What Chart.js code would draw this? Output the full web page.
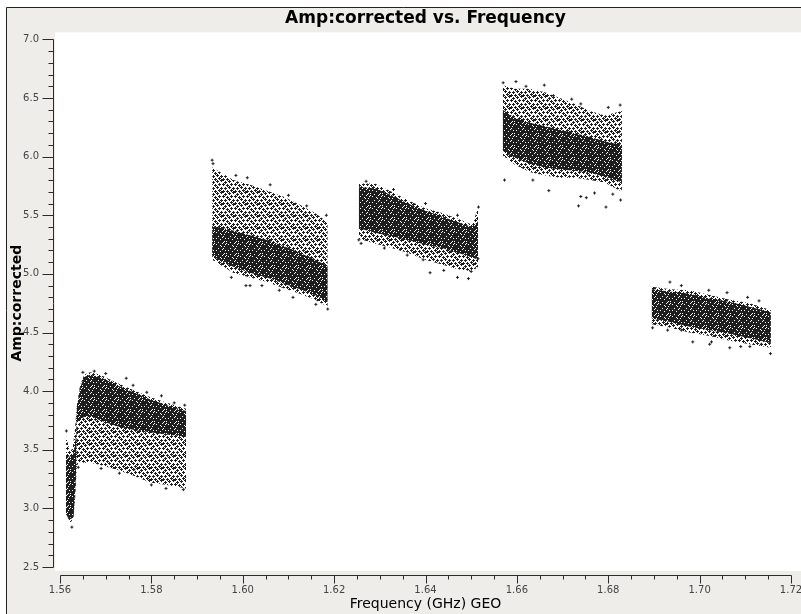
<!DOCTYPE html>
<html>
<head>
<meta charset="utf-8">
<script src="https://cdn.jsdelivr.net/npm/chart.js@4/dist/chart.umd.min.js"></script>
<style>
  html, body { margin: 0; padding: 0; background: #fff; }
  canvas { display: block; }
</style>
</head>
<body>
<canvas id="plot" width="801" height="614"></canvas>
<script>
/* global Chart */

// ---------------------------------------------------------------------------
// Axes
// ---------------------------------------------------------------------------

const X_TICKS      = [1.56, 1.58, 1.60, 1.62, 1.64, 1.66, 1.68, 1.70, 1.72];
const X_MINOR_STEP = 0.005;
const Y_TICKS      = [2.5, 3.0, 3.5, 4.0, 4.5, 5.0, 5.5, 6.0, 6.5, 7.0];
const Y_MINOR_STEP = 0.1;

// ---------------------------------------------------------------------------
// Data, one block per spectral window
//   *Freq / *Top / *Bottom : envelope of the whole cloud
//   *CoreFreq / ...        : the densest part of the cloud
//   *Points                : loose points around the edges
// ---------------------------------------------------------------------------

const spw0Freq       = [1.5613, 1.5622, 1.5628, 1.5633, 1.5637, 1.5644, 1.5653, 1.5666, 1.5688, 1.5725, 1.5760, 1.5797, 1.5834, 1.5876];
const spw0Top        = [3.62, 3.48, 3.52, 3.69, 3.88, 4.05, 4.14, 4.16, 4.14, 4.07, 4.01, 3.95, 3.90, 3.85];
const spw0Bottom     = [2.97, 2.88, 2.90, 3.07, 3.37, 3.39, 3.39, 3.39, 3.37, 3.33, 3.28, 3.22, 3.20, 3.17];
const spw0CoreFreq   = [1.5613, 1.5622, 1.5630, 1.5635, 1.5637, 1.5644, 1.5653, 1.5666, 1.5688, 1.5725, 1.5760, 1.5797, 1.5834, 1.5876];
const spw0CoreTop    = [3.45, 3.44, 3.47, 3.62, 3.86, 4.03, 4.12, 4.14, 4.12, 4.05, 3.99, 3.93, 3.88, 3.83];
const spw0CoreBottom = [2.95, 2.90, 2.93, 3.30, 3.74, 3.76, 3.78, 3.79, 3.75, 3.70, 3.67, 3.65, 3.63, 3.61];
const spw0Points = [
    [1.5614, 3.66], [1.5626, 2.84], [1.5620, 2.92], [1.5650, 4.16], [1.5675, 4.17],
    [1.5700, 4.15], [1.5745, 4.11], [1.5760, 4.05], [1.5790, 3.99], [1.5822, 3.96],
    [1.5850, 3.90], [1.5873, 3.88], [1.5690, 3.34], [1.5730, 3.30], [1.5762, 3.33],
    [1.5800, 3.20], [1.5832, 3.17], [1.5870, 3.16], [1.5640, 3.35],
];

const spw1Freq       = [1.5933, 1.5979, 1.6016, 1.6053, 1.6088, 1.6125, 1.6158, 1.6186];
const spw1Top        = [5.91, 5.80, 5.76, 5.71, 5.66, 5.59, 5.52, 5.44];
const spw1Bottom     = [5.12, 5.01, 4.97, 4.93, 4.88, 4.83, 4.78, 4.72];
const spw1CoreFreq   = spw1Freq;
const spw1CoreTop    = [5.41, 5.37, 5.33, 5.29, 5.24, 5.18, 5.12, 5.07];
const spw1CoreBottom = [5.15, 5.06, 5.01, 4.97, 4.92, 4.87, 4.82, 4.76];
const spw1Points = [
    [1.5933, 5.97], [1.5935, 5.94], [1.5985, 5.84], [1.6010, 5.82], [1.6060, 5.76],
    [1.6100, 5.67], [1.6140, 5.58], [1.6183, 5.50], [1.5975, 4.97], [1.6007, 4.90],
    [1.6016, 4.90], [1.6042, 4.90], [1.6080, 4.86], [1.6110, 4.80], [1.6160, 4.74],
    [1.6186, 4.70],
];

const spw2Freq       = [1.6254, 1.6289, 1.6326, 1.6361, 1.6399, 1.6436, 1.6471, 1.6502, 1.6515];
const spw2Top        = [5.77, 5.77, 5.70, 5.63, 5.56, 5.52, 5.47, 5.42, 5.56];
const spw2Bottom     = [5.30, 5.26, 5.22, 5.18, 5.12, 5.08, 5.04, 5.02, 5.06];
const spw2CoreFreq   = spw2Freq;
const spw2CoreTop    = [5.74, 5.73, 5.67, 5.60, 5.54, 5.49, 5.44, 5.40, 5.45];
const spw2CoreBottom = [5.39, 5.35, 5.32, 5.29, 5.25, 5.22, 5.18, 5.14, 5.12];
const spw2Points = [
    [1.6254, 5.29], [1.6259, 5.26], [1.6310, 5.22], [1.6345, 5.21], [1.6360, 5.16],
    [1.6395, 5.12], [1.6410, 5.01], [1.6440, 5.03], [1.6470, 4.97], [1.6494, 4.96],
    [1.6500, 5.02], [1.6270, 5.79], [1.6330, 5.72], [1.6400, 5.60], [1.6470, 5.50],
    [1.6516, 5.57], [1.6515, 5.13],
];

const spw3Freq       = [1.6569, 1.6596, 1.6628, 1.6661, 1.6694, 1.6727, 1.6760, 1.6792, 1.6830];
const spw3Top        = [6.61, 6.58, 6.58, 6.55, 6.50, 6.45, 6.39, 6.35, 6.39];
const spw3Bottom     = [6.01, 5.93, 5.87, 5.84, 5.82, 5.82, 5.80, 5.78, 5.70];
const spw3CoreFreq   = spw3Freq;
const spw3CoreTop    = [6.40, 6.33, 6.29, 6.26, 6.23, 6.20, 6.17, 6.13, 6.10];
const spw3CoreBottom = [6.05, 5.99, 5.94, 5.91, 5.89, 5.88, 5.86, 5.83, 5.78];
const spw3Points = [
    [1.6570, 6.63], [1.6598, 6.64], [1.6620, 6.60], [1.6660, 6.61], [1.6680, 6.52],
    [1.6720, 6.49], [1.6740, 6.45], [1.6800, 6.42], [1.6826, 6.44], [1.6573, 5.80],
    [1.6635, 5.80], [1.6670, 5.71], [1.6740, 5.66], [1.6752, 5.65], [1.6735, 5.58],
    [1.6770, 5.69], [1.6795, 5.57], [1.6827, 5.63], [1.6810, 5.68],
];

const spw4Freq       = [1.6895, 1.6935, 1.6978, 1.7022, 1.7066, 1.7110, 1.7156];
const spw4Top        = [4.89, 4.87, 4.86, 4.82, 4.78, 4.75, 4.69];
const spw4Bottom     = [4.57, 4.54, 4.50, 4.47, 4.43, 4.40, 4.37];
const spw4CoreFreq   = spw4Freq;
const spw4CoreTop    = [4.87, 4.85, 4.83, 4.79, 4.76, 4.72, 4.67];
const spw4CoreBottom = [4.62, 4.59, 4.55, 4.52, 4.49, 4.45, 4.41];
const spw4Points = [
    [1.6935, 4.93], [1.6960, 4.90], [1.7020, 4.86], [1.7060, 4.84], [1.7105, 4.80],
    [1.7130, 4.77], [1.6897, 4.54], [1.6930, 4.52], [1.6960, 4.52], [1.6985, 4.42],
    [1.7026, 4.42], [1.7022, 4.40], [1.7066, 4.37], [1.7090, 4.38], [1.7110, 4.38],
    [1.7135, 4.40], [1.7155, 4.32],
];

// ---------------------------------------------------------------------------
// Speckle patterns (plotms draws every visibility as a tiny "+")
// ---------------------------------------------------------------------------

const INK = '#1e1e1e';

function makeSpeckle(size, centers) {
    const c = document.createElement('canvas');
    c.width = size; c.height = size;
    const g = c.getContext('2d');
    g.fillStyle = INK;
    for (const [cx, cy] of centers) {
        for (const dx of [-size, 0, size]) {
            for (const dy of [-size, 0, size]) {
                g.fillRect(cx + dx - 1, cy + dy, 3, 1);
                g.fillRect(cx + dx, cy + dy - 1, 1, 3);
            }
        }
    }
    return g.createPattern(c, 'repeat');
}

const densePat = makeSpeckle(12, [
    [0, 0], [3, 0], [6, 1], [9, 0],
    [1, 3], [4, 2], [8, 3], [11, 2],
    [2, 5], [5, 4], [7, 5], [10, 5],
    [0, 7], [3, 6], [6, 7], [9, 7],
    [1, 9], [4, 8], [8, 9], [11, 9],
    [2, 11], [5, 10], [7, 11], [10, 11],
]);
const loosePat = makeSpeckle(12, [
    [1, 1], [5, 0], [9, 2], [3, 4], [7, 4], [11, 5],
    [1, 7], [5, 8], [9, 8], [3, 10], [7, 11], [11, 11],
]);

// ---------------------------------------------------------------------------
// Datasets
// ---------------------------------------------------------------------------

const SPWS = [
    [spw0Freq, spw0Top, spw0Bottom, spw0CoreFreq, spw0CoreTop, spw0CoreBottom, spw0Points],
    [spw1Freq, spw1Top, spw1Bottom, spw1CoreFreq, spw1CoreTop, spw1CoreBottom, spw1Points],
    [spw2Freq, spw2Top, spw2Bottom, spw2CoreFreq, spw2CoreTop, spw2CoreBottom, spw2Points],
    [spw3Freq, spw3Top, spw3Bottom, spw3CoreFreq, spw3CoreTop, spw3CoreBottom, spw3Points],
    [spw4Freq, spw4Top, spw4Bottom, spw4CoreFreq, spw4CoreTop, spw4CoreBottom, spw4Points],
];

function edge(freq, amp) {
    return freq.map((f, i) => ({ x: f, y: amp[i] }));
}

function band(freq, top, bottom, pattern) {
    return [
        { data: edge(freq, top), borderWidth: 0, pointRadius: 0, fill: false },
        { data: edge(freq, bottom), borderWidth: 0, pointRadius: 0, fill: '-1', backgroundColor: pattern },
    ];
}

const datasets = [];
for (const [freq, top, bottom, cFreq, cTop, cBottom, pts] of SPWS) {
    datasets.push(...band(freq, top, bottom, loosePat));
    datasets.push(...band(cFreq, cTop, cBottom, densePat));
    datasets.push({
        data:        pts.map(([f, a]) => ({ x: f, y: a })),
        showLine:    false,
        pointStyle:  'cross',
        pointRadius: 1.5,
        borderWidth: 1,
        borderColor: INK,
        backgroundColor: INK,
    });
}

// ---------------------------------------------------------------------------
// Frame, axis lines and minor ticks
// ---------------------------------------------------------------------------

const AXIS_COLOR = '#2b2b2b';

const framePlugin = {
    id: 'frame',
    beforeDraw(chart) {
        const { ctx, chartArea: a, width, height } = chart;
        ctx.save();
        ctx.fillStyle = '#ffffff';
        ctx.fillRect(0, 0, width, height);
        ctx.fillStyle = '#efede9';
        ctx.fillRect(7, 8, width - 7, height - 8);
        ctx.fillStyle = '#ffffff';
        ctx.fillRect(a.left - 5, a.top - 7, width - (a.left - 5), a.bottom - a.top + 11);
        ctx.strokeStyle = '#222';
        ctx.lineWidth = 1;
        ctx.beginPath();
        ctx.moveTo(6.5, height);
        ctx.lineTo(6.5, 7.5);
        ctx.lineTo(width, 7.5);
        ctx.stroke();
        ctx.restore();
    },
    afterDraw(chart) {
        const { ctx } = chart;
        const xs = chart.scales.x;
        const ys = chart.scales.y;
        const axX = 53.5;
        const axY = 575.5;
        ctx.save();
        ctx.strokeStyle = AXIS_COLOR;
        ctx.lineWidth = 1;
        ctx.beginPath();

        // y axis
        const yTop = Math.round(ys.getPixelForValue(ys.max)) + 0.5;
        const yBot = Math.round(ys.getPixelForValue(ys.min)) + 0.5;
        ctx.moveTo(axX, yTop); ctx.lineTo(axX, yBot);
        const ny = Math.round((ys.max - ys.min) / Y_MINOR_STEP);
        for (let i = 0; i <= ny; i++) {
            const v = ys.min + i * Y_MINOR_STEP;
            const py = Math.round(ys.getPixelForValue(v)) + 0.5;
            const major = Y_TICKS.some(t => Math.abs(t - v) < 1e-6);
            ctx.moveTo(axX - (major ? 11 : 5), py); ctx.lineTo(axX, py);
        }

        // x axis
        const xL = Math.round(xs.getPixelForValue(xs.min)) + 0.5;
        const xR = Math.round(xs.getPixelForValue(xs.max)) + 0.5;
        ctx.moveTo(xL, axY); ctx.lineTo(xR, axY);
        const nx = Math.round((xs.max - xs.min) / X_MINOR_STEP);
        for (let i = 0; i <= nx; i++) {
            const v = xs.min + i * X_MINOR_STEP;
            const px = Math.round(xs.getPixelForValue(v)) + 0.5;
            const major = X_TICKS.some(t => Math.abs(t - v) < 1e-6);
            ctx.moveTo(px, axY); ctx.lineTo(px, axY + (major ? 8 : 4));
        }
        ctx.stroke();
        ctx.restore();
    },
};

// ---------------------------------------------------------------------------
// Chart
// ---------------------------------------------------------------------------

const tickFont = { family: 'DejaVu Sans', size: 10 };

new Chart(document.getElementById('plot'), {
    type: 'line',
    data: { datasets },
    plugins: [framePlugin],
    options: {
        responsive:       false,
        animation:        false,
        devicePixelRatio: 1,
        layout:           { padding: { left: 0, right: 10, top: 0, bottom: 0 } },
        elements:         { line: { tension: 0 } },
        plugins: {
            legend:  { display: false },
            tooltip: { enabled: false },
            title: {
                display:  true,
                fullSize: false,
                text:     'Amp:corrected vs. Frequency',
                color:    '#000',
                font:     { family: 'DejaVu Sans', size: 17, weight: 'bold' },
                padding:  { top: 8, bottom: 11 },
            },
        },
        scales: {
            x: {
                type: 'linear',
                min:  1.56,
                max:  1.72,
                afterBuildTicks: s => { s.ticks = X_TICKS.map(v => ({ value: v })); },
                afterFit:        s => { s.height = 47; s.paddingLeft = 0; s.paddingRight = 0; },
                grid:   { display: false, drawTicks: false },
                border: { display: false },
                ticks: {
                    color: '#444', font: tickFont, padding: 17, maxRotation: 0, autoSkip: false,
                    callback: v => v.toFixed(2),
                },
                title: {
                    display: true, text: 'Frequency (GHz) GEO', color: '#000',
                    font: { family: 'DejaVu Sans', size: 14 }, padding: { top: 0, bottom: 1 },
                },
            },
            y: {
                type: 'linear',
                min:  2.5,
                max:  7.0,
                afterBuildTicks: s => { s.ticks = Y_TICKS.map(v => ({ value: v })); },
                afterFit:        s => { s.width = 60; s.paddingTop = 0; s.paddingBottom = 0; },
                grid:   { display: false, drawTicks: false },
                border: { display: false },
                ticks: {
                    color: '#444', font: tickFont, padding: 21, autoSkip: false,
                    callback: v => v.toFixed(1),
                },
                title: {
                    display: true, text: 'Amp:corrected', color: '#000',
                    font: { family: 'DejaVu Sans', size: 14, weight: 'bold' }, padding: { top: 9, bottom: 0 },
                },
            },
        },
    },
});
</script>
</body>
</html>
